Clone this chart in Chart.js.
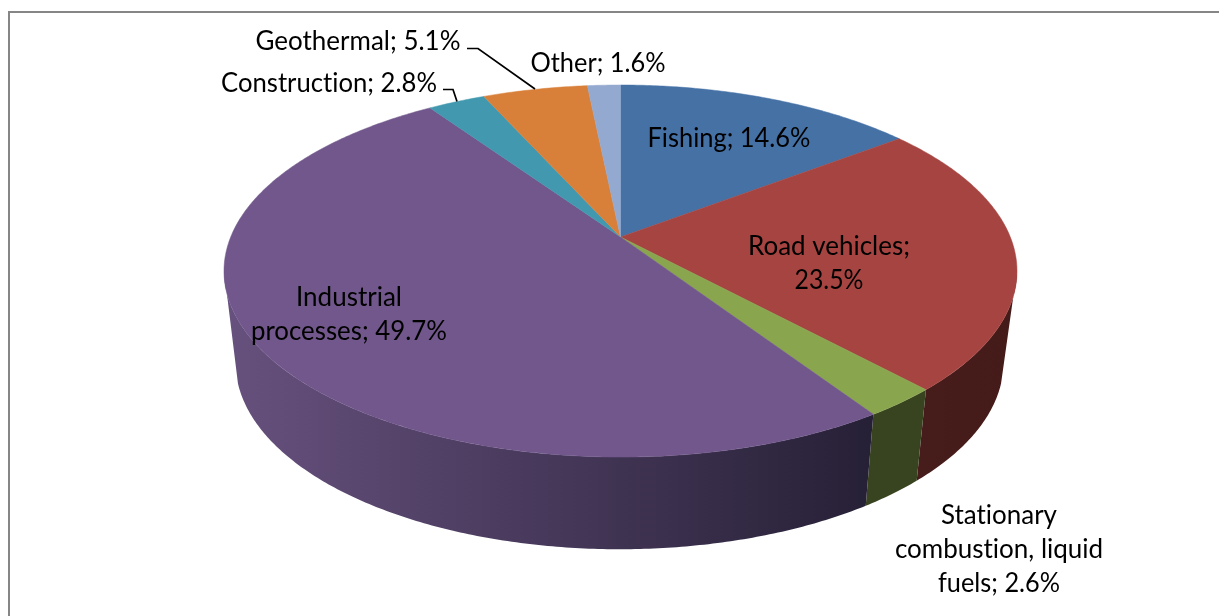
<!DOCTYPE html>
<html>
<head>
<meta charset="utf-8">
<style>
  html, body { margin: 0; padding: 0; background: #fff; overflow: hidden; }
  canvas { display: block; }
</style>
<script src="https://cdn.jsdelivr.net/npm/chart.js@4/dist/chart.umd.min.js"></script>
</head>
<body>
<canvas id="pie-chart" width="1219" height="616"></canvas>
<script>
// Values
const categories = ['Fishing', 'Road vehicles', 'Stationary combustion, liquid fuels', 'Industrial processes', 'Construction', 'Geothermal', 'Other'];
const shares = [14.6, 23.5, 2.6, 49.7, 2.8, 5.1, 1.6];
const topColors = ['#4571a5', '#a64441', '#89a54e', '#71578b', '#4198af', '#d8803a', '#93a9cf'];
const wallColors = [
  ['#2a4365', '#2a4365'],
  ['#471d1b', '#451b19'],
  ['#38431f', '#38431f'],
  ['#67517e', '#262036'],
  ['#27606f', '#27606f'],
  ['#8a5020', '#8a5020'],
  ['#5c6a84', '#5c6a84']
];

// Label text and where it sits
const labelLines = [
  ['Fishing; 14.6%'],
  ['Road vehicles;', '23.5%'],
  ['Stationary', 'combustion, liquid', 'fuels; 2.6%'],
  ['Industrial', 'processes; 49.7%'],
  ['Construction; 2.8%'],
  ['Geothermal; 5.1%'],
  ['Other; 1.6%']
];
const labelCenters = [[729, 138.5], [829, 246.5], [999, 515.5], [349, 297.5], [329, 83.5], [358, 41.5], [598, 63.5]];
const labelWidths = [
  [163],
  [162, 69],
  [116, 210, 122],
  [106, 196],
  [216],
  [205],
  [135]
];
const lineHeight = 34;
const leaderLines = [
  [[443, 89.5], [453, 89.5], [457, 101.5]],
  [[467, 48.5], [478, 48.5], [535, 89]]
];

// The disc lies in perspective, so top and bottom faces get their own projection
const topFace = { cx: 620.5, cy: 237, rx: 389.8, ry: 179.8, k: 0.183 };
const bottomFace = { cx: 619.5, cy: 327, rx: 377, ry: 180, k: 0.19 };

function project(face, angle, radius = 1) {
  const x = Math.cos(angle) * radius;
  const y = Math.sin(angle) * radius;
  const w = 1 / (1 - face.k * y);
  return [face.cx + face.rx * x * w, face.cy + face.ry * y * w];
}

function rimPoints(face, start, end) {
  const steps = Math.max(2, Math.ceil((end - start) / 0.01));
  const points = [];
  for (let i = 0; i <= steps; i++) {
    points.push(project(face, start + (end - start) * i / steps));
  }
  return points;
}

function tracePolygon(ctx, points) {
  ctx.beginPath();
  points.forEach((p, i) => (i ? ctx.lineTo(p[0], p[1]) : ctx.moveTo(p[0], p[1])));
  ctx.closePath();
}

// Only the front of the wall shows: Chart.js angles run from -PI/2 at the top, front is PI/2.
// The silhouette runs from the widest point of the top rim to just past the widest of the bottom rim
const topRimEdge = 0.18;
const bottomRimEdge = 0.3;

const perspectivePie = {
  id: 'perspectivePie',
  beforeDatasetsDraw(chart) {
    const ctx = chart.ctx;
    const arcs = chart.getDatasetMeta(0).data;

    arcs.forEach((arc, i) => {
      const topStart = Math.max(arc.startAngle, topRimEdge);
      const topEnd = Math.min(arc.endAngle, Math.PI - topRimEdge);
      const bottomStart = Math.max(arc.startAngle, bottomRimEdge);
      const bottomEnd = Math.min(arc.endAngle, Math.PI - bottomRimEdge);
      if (topEnd <= topStart || bottomEnd <= bottomStart) return;
      const outline = rimPoints(topFace, topStart, topEnd).concat(rimPoints(bottomFace, bottomStart, bottomEnd).reverse());
      const left = Math.min(...outline.map(p => p[0]));
      const right = Math.max(...outline.map(p => p[0]));
      const fill = ctx.createLinearGradient(right, 0, left, 0);
      fill.addColorStop(0, wallColors[i][1]);
      fill.addColorStop(1, wallColors[i][0]);
      tracePolygon(ctx, outline);
      ctx.fillStyle = fill;
      ctx.fill();
    });

    arcs.forEach(arc => {
      const points = [project(topFace, 0, 0)].concat(rimPoints(topFace, arc.startAngle, arc.endAngle));
      tracePolygon(ctx, points);
      ctx.fillStyle = arc.options.backgroundColor;
      ctx.strokeStyle = arc.options.backgroundColor;
      ctx.lineWidth = 0.5;
      ctx.fill();
      ctx.stroke();
    });
    return false;
  },
  afterDraw(chart) {
    const ctx = chart.ctx;
    ctx.save();

    ctx.strokeStyle = '#868686';
    ctx.lineWidth = 2;
    ctx.beginPath();
    ctx.moveTo(9, 616);
    ctx.lineTo(9, 12);
    ctx.lineTo(1219, 12);
    ctx.stroke();

    ctx.strokeStyle = '#000';
    ctx.lineWidth = 1.7;
    leaderLines.forEach(line => {
      ctx.beginPath();
      line.forEach((p, i) => (i ? ctx.lineTo(p[0], p[1]) : ctx.moveTo(p[0], p[1])));
      ctx.stroke();
    });

    ctx.fillStyle = '#000';
    ctx.font = '26px Lato';
    ctx.textRendering = 'optimizeSpeed';
    ctx.textAlign = 'center';
    ctx.textBaseline = 'middle';
    labelLines.forEach((lines, i) => {
      lines.forEach((text, j) => {
        ctx.fillText(text, labelCenters[i][0], labelCenters[i][1] + j * lineHeight, labelWidths[i][j]);
      });
    });
    ctx.restore();
  }
};

document.addEventListener('DOMContentLoaded', () => {
  const pieCtx = document.getElementById('pie-chart').getContext('2d');
  new Chart(pieCtx, {
    type: 'pie',
    data: {
      labels: categories,
      datasets: [{
        data: shares,
        backgroundColor: topColors,
        borderWidth: 0
      }]
    },
    options: {
      responsive: false,
      animation: false,
      plugins: {
        legend: { display: false },
        tooltip: { enabled: false }
      }
    },
    plugins: [perspectivePie]
  });
});
</script>
</body>
</html>
